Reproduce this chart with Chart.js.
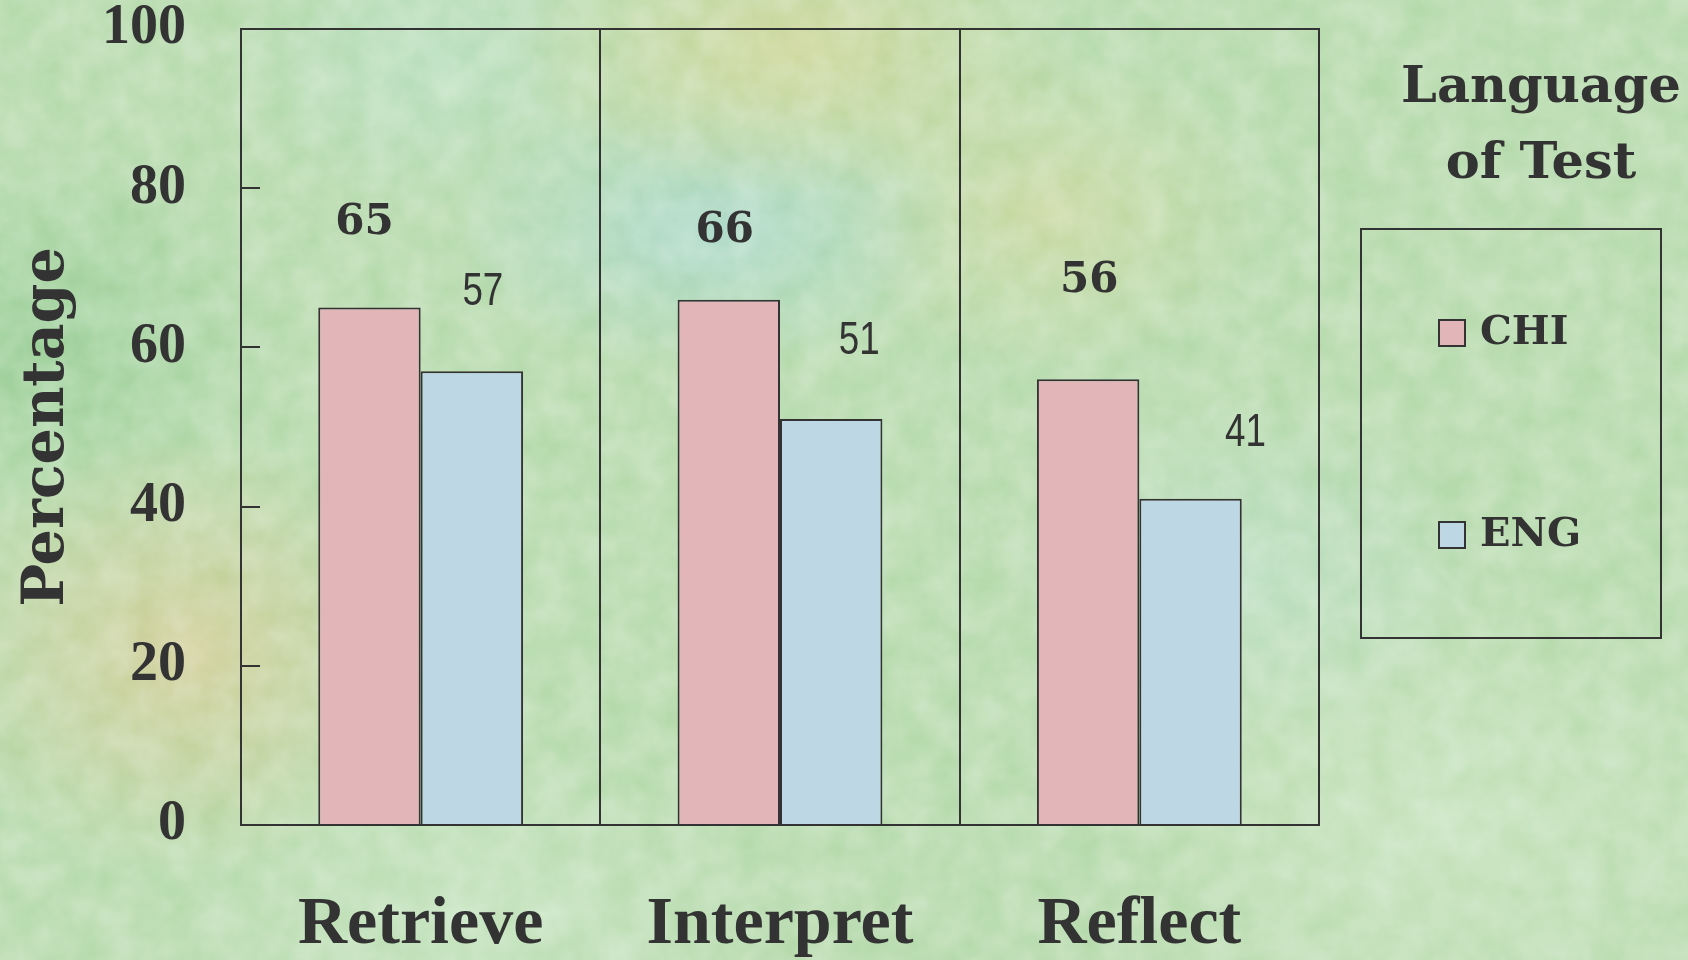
<!DOCTYPE html>
<html lang="en">
<head>
<meta charset="UTF-8">
<title>Language of Test</title>
<script src="https://cdn.jsdelivr.net/npm/chart.js"></script>
<style>
  html, body { margin: 0; padding: 0; }
  body {
    width: 1688px; height: 960px; overflow: hidden;
    background-color: #b4d9aa;
    background-image:
      url("data:image/svg+xml;utf8,<svg xmlns='http://www.w3.org/2000/svg' width='1688' height='960'><filter id='n'><feTurbulence type='fractalNoise' baseFrequency='0.03' numOctaves='3' seed='4'/><feColorMatrix values='0 0 0 0 1  0 0 0 0 1  0 0 0 0 1  0 0 0 0.4 -0.05'/></filter><rect width='100%' height='100%' filter='url(%23n)'/></svg>"),
      radial-gradient(ellipse 260px 220px at 11% 68%, rgba(218,200,140,0.7), rgba(218,200,140,0) 100%),
      radial-gradient(ellipse 280px 150px at 47% 5%, rgba(220,212,140,0.6), rgba(220,212,140,0) 100%),
      radial-gradient(ellipse 260px 140px at 42% 24%, rgba(165,215,210,0.7), rgba(165,215,210,0) 100%),
      radial-gradient(ellipse 220px 160px at 62% 22%, rgba(215,215,150,0.55), rgba(215,215,150,0) 100%),
      radial-gradient(ellipse 260px 200px at 2% 35%, rgba(140,200,140,0.7), rgba(140,200,140,0) 100%),
      radial-gradient(ellipse 220px 160px at 26% 6%, rgba(185,225,200,0.6), rgba(185,225,200,0) 100%),
      radial-gradient(ellipse 360px 240px at 85% 85%, rgba(205,230,195,0.65), rgba(205,230,195,0) 100%),
      radial-gradient(ellipse 320px 200px at 28% 96%, rgba(200,230,195,0.65), rgba(200,230,195,0) 100%),
      radial-gradient(ellipse 240px 180px at 74% 60%, rgba(190,225,210,0.5), rgba(190,225,210,0) 100%);
  }
  #wrap { position: absolute; left: 0; top: 0; width: 1688px; height: 960px; }
</style>
</head>
<body>
<div id="wrap"><canvas id="chart" width="1688" height="960"></canvas></div>
<script>
  const categories = ['Retrieve', 'Interpret', 'Reflect'];
  const seriesNames = ['CHI', 'ENG'];
  const chiValues = [65, 66, 56];
  const engValues = [57, 51, 41];
  const yTicks = [0, 20, 40, 60, 80, 100];
  const legendTitle = ['Language', 'of Test'];

  const ink = '#333333';
  const serifBold = '"Liberation Serif", "Times New Roman", serif';
  const wideSerif = '"DejaVu Serif", serif';

  // label offsets from the top centre of each bar, px
  const labelOffsets = [
    [[-5, -85], [-4, -69], [1, -98]],
    [[11, -79], [28, -78], [55, -65]]
  ];

  const frameAndTicks = {
    id: 'frameAndTicks',
    afterDraw(chart) {
      const { ctx, chartArea: a } = chart;
      const y = chart.scales.y;
      ctx.save();
      ctx.strokeStyle = ink;
      ctx.lineWidth = 2;
      ctx.strokeRect(a.left, a.top, a.right - a.left, a.bottom - a.top);
      yTicks.forEach(v => {
        if (v === 0 || v === 100) return;
        const py = Math.round(y.getPixelForValue(v));
        ctx.beginPath();
        ctx.moveTo(a.left, py);
        ctx.lineTo(a.left + 19, py);
        ctx.stroke();
      });
      ctx.restore();
    }
  };

  const barLabels = {
    id: 'barLabels',
    afterDatasetsDraw(chart) {
      const { ctx } = chart;
      ctx.save();
      ctx.fillStyle = ink;
      ctx.textAlign = 'center';
      ctx.textBaseline = 'middle';
      chart.data.datasets.forEach((ds, di) => {
        chart.getDatasetMeta(di).data.forEach((bar, i) => {
          const off = labelOffsets[di][i];
          const txt = String(ds.data[i]);
          if (di === 0) {
            ctx.font = 'bold 42px ' + wideSerif;
            ctx.fillText(txt, bar.x + off[0], bar.y + off[1]);
          } else {
            // narrow sans look
            ctx.save();
            ctx.translate(bar.x + off[0], bar.y + off[1]);
            ctx.scale(0.8, 1);
            ctx.font = '46px "Liberation Sans", sans-serif';
            ctx.fillText(txt, 0, 0);
            ctx.restore();
          }
        });
      });
      ctx.restore();
    }
  };

  const sideLegend = {
    id: 'sideLegend',
    afterDraw(chart) {
      const { ctx } = chart;
      ctx.save();
      ctx.fillStyle = ink;
      ctx.strokeStyle = ink;
      ctx.textAlign = 'center';
      ctx.textBaseline = 'middle';
      ctx.font = 'bold 51px ' + wideSerif;
      legendTitle.forEach((t, i) => ctx.fillText(t, 1541, 89 + i * 76));
      ctx.lineWidth = 2;
      ctx.strokeRect(1361, 229, 300, 409);
      ctx.font = 'bold 40px ' + wideSerif;
      ctx.textAlign = 'left';
      chart.data.datasets.forEach((ds, i) => {
        const cy = 333 + i * 202;
        ctx.fillStyle = ds.backgroundColor;
        ctx.fillRect(1439, cy - 13, 26, 26);
        ctx.strokeRect(1439, cy - 13, 26, 26);
        ctx.fillStyle = ink;
        ctx.fillText(ds.label, 1480, cy + 1);
      });
      ctx.restore();
    }
  };

  new Chart(document.getElementById('chart'), {
    type: 'bar',
    data: {
      labels: categories,
      datasets: [
        { label: seriesNames[0], data: chiValues, backgroundColor: '#e2b6b8', borderColor: ink, borderWidth: 2 },
        { label: seriesNames[1], data: engValues, backgroundColor: '#bdd7e5', borderColor: ink, borderWidth: 2 }
      ]
    },
    options: {
      responsive: false,
      animation: false,
      devicePixelRatio: 1,
      layout: { padding: { top: 29, right: 369, left: 0, bottom: 0 } },
      datasets: { bar: { barPercentage: 1, categoryPercentage: 0.57 } },
      plugins: { legend: { display: false }, tooltip: { enabled: false } },
      scales: {
        x: {
          grid: { offset: true, color: ink, lineWidth: 2, drawTicks: false },
          border: { display: true, color: ink, width: 2 },
          ticks: { color: ink, font: { family: serifBold, size: 68, weight: 'bold' }, padding: 60 },
          afterFit(scale) { scale.height = 135; scale.paddingLeft = 0; scale.paddingRight = 0; }
        },
        y: {
          min: 0, max: 100,
          afterBuildTicks(scale) { scale.ticks = yTicks.map(v => ({ value: v })); },
          grid: { display: false, drawTicks: false },
          border: { display: true, color: ink, width: 2 },
          ticks: { color: ink, font: { family: serifBold, size: 56, weight: 'bold' }, padding: 55 },
          title: {
            display: true, text: 'Percentage', color: ink,
            font: { family: wideSerif, size: 57, weight: 'bold' },
            padding: { top: 14, bottom: 0 }
          },
          afterFit(scale) { scale.width = 241; scale.paddingTop = 0; scale.paddingBottom = 0; }
        }
      }
    },
    plugins: [frameAndTicks, barLabels, sideLegend]
  });
</script>
</body>
</html>
